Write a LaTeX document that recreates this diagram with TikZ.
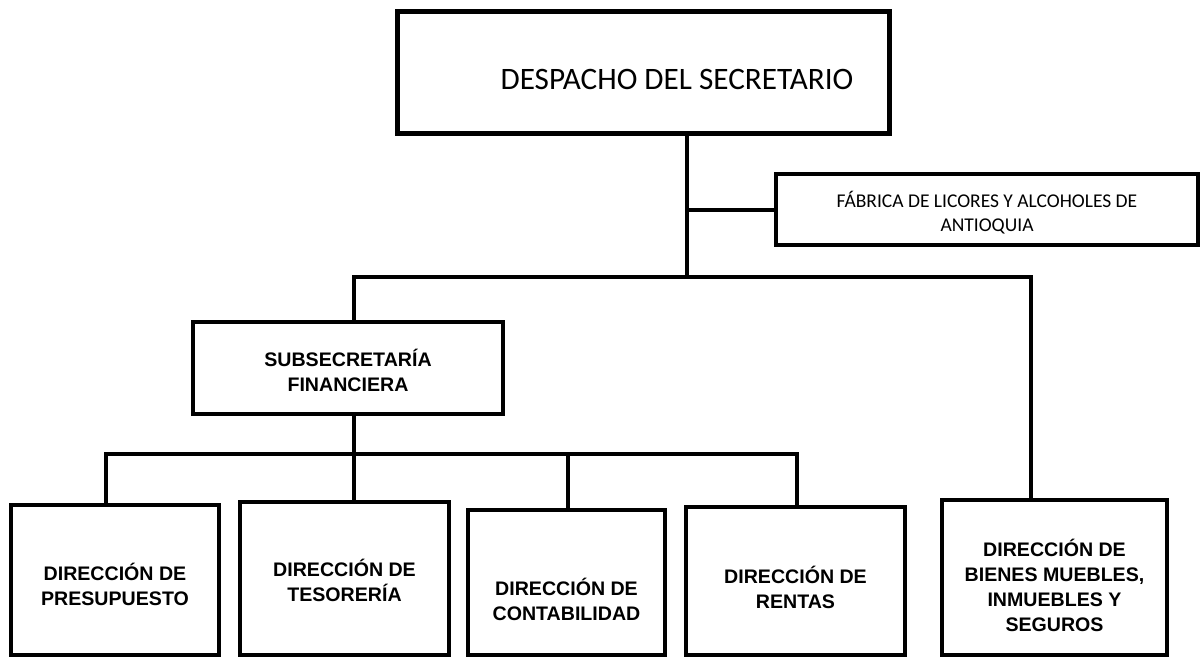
\documentclass[tikz,border=0pt]{standalone}
\usepackage{fontspec}
\setmainfont{Carlito}
\newfontfamily\arialf{Liberation Sans}
\tikzset{
  box/.style={draw=black, rectangle, inner sep=0pt},
  thickbox/.style={box, line width=5pt},
  thinbox/.style={box, line width=4pt},
  conn/.style={draw=black, line width=4pt, line join=miter},
  lbl/.style={align=center, inner sep=0pt, font={\arialf\bfseries\fontsize{19.6}{25}\selectfont}},
  reg/.style={align=center, inner sep=0pt}
}
\begin{document}
\begin{tikzpicture}[x=1pt,y=-1pt]
\useasboundingbox (0,0) rectangle (1201,658);
% top
\node[thickbox, minimum width=492pt, minimum height=121pt,
  label={[reg, font=\fontsize{31.2}{36}\selectfont, xshift=34pt, yshift=-6.5pt]center:DESPACHO DEL SECRETARIO}]
  (desp) at (643,72.5) {};
\node[thinbox, minimum width=422pt, minimum height=71pt,
  label={[reg, font=\fontsize{19.5}{24}\selectfont, yshift=-3pt]center:FÁBRICA DE LICORES Y ALCOHOLES DE\\ANTIOQUIA}]
  (fab) at (987,209.5) {};
\node[thinbox, minimum width=310pt, minimum height=92pt,
  label={[lbl, yshift=-2pt]center:SUBSECRETARÍA\\FINANCIERA}]
  (sub) at (348,368) {};
% bottom boxes
\node[thinbox, minimum width=208pt, minimum height=150pt,
  label={[lbl, yshift=-4.5pt]center:DIRECCIÓN DE\\PRESUPUESTO}]
  (pres) at (115,580) {};
\node[thinbox, minimum width=209pt, minimum height=153pt,
  label={[lbl, yshift=-2pt]center:DIRECCIÓN DE\\TESORERÍA}]
  (tes) at (344.5,578.5) {};
\node[thinbox, minimum width=197pt, minimum height=145pt,
  label={[lbl, yshift=-17pt]center:DIRECCIÓN DE\\CONTABILIDAD}]
  (cont) at (566.5,582.5) {};
\node[thinbox, minimum width=219pt, minimum height=148pt,
  label={[lbl, yshift=-6.5pt]center:DIRECCIÓN DE\\RENTAS}]
  (rent) at (795.5,581) {};
\node[thinbox, minimum width=225pt, minimum height=155pt,
  label={[lbl, yshift=-7.5pt]center:DIRECCIÓN DE\\BIENES MUEBLES,\\INMUEBLES Y\\SEGUROS}]
  (bien) at (1054.5,577.5) {};
% junctions
\coordinate (j1) at (687,277);
\coordinate (b1L) at (354,277);
\coordinate (b1R) at (1031,277);
\coordinate (b2L) at (106,454);
\coordinate (b2M) at (354,454);
\coordinate (b2C) at (568,454);
\coordinate (b2R) at (797,454);
% connectors
\draw[conn] (desp.south -| j1) -- (j1);
\draw[conn] (fab.west) -- (fab.west -| j1);
\draw[conn] (sub.north -| b1L) -- (b1L) -- (b1R) -- (bien.north -| b1R);
\draw[conn] (sub.south -| b2M) -- (tes.north -| b2M);
\draw[conn] (pres.north -| b2L) -- (b2L) -- (b2R) -- (rent.north -| b2R);
\draw[conn] (b2C) -- (cont.north -| b2C);
\end{tikzpicture}
\end{document}
